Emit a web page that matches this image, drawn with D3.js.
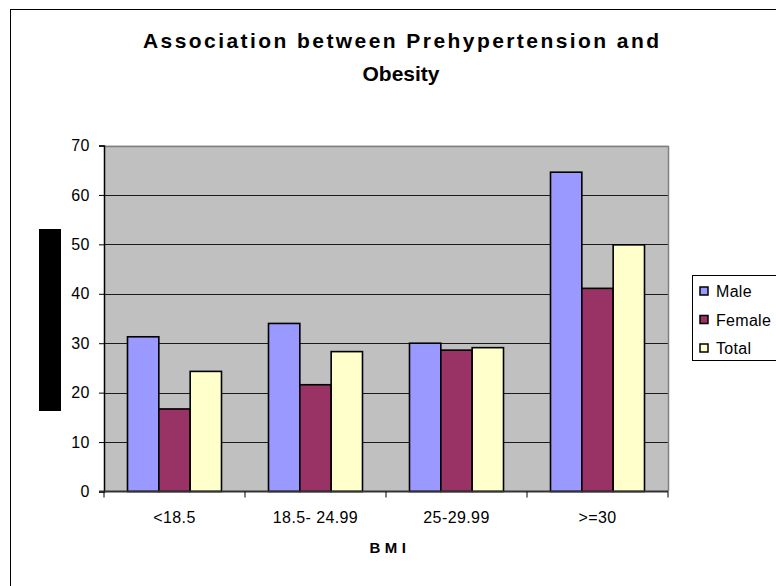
<!DOCTYPE html>
<html><head><meta charset="utf-8">
<script src="https://cdn.jsdelivr.net/npm/d3@7"></script>
<style>body{margin:0;background:#fff}svg{display:block}</style>
</head><body>
<script>
const categories = ["<18.5", "18.5- 24.99", "25-29.99", ">=30"];
const seriesNames = ["Male", "Female", "Total"];
const male = [31.3, 34.0, 30.0, 64.6];
const female = [16.7, 21.6, 28.6, 41.1];
const total = [24.3, 28.3, 29.1, 49.9];
const yTicks = [0, 10, 20, 30, 40, 50, 60, 70];
const titleLines = ["Association between Prehypertension and", "Obesity"];
const xTitle = "BMI";

const seriesValues = [male, female, total];
const colors = ["#9999FF", "#993366", "#FFFFCC"];
const FONT = "Arial, 'Liberation Sans', sans-serif";

const W = 776, H = 586;
const svg = d3.select("body").append("svg").attr("width", W).attr("height", H);
svg.append("rect").attr("width", W).attr("height", H).attr("fill", "#fff");
// outer chart border
svg.append("rect").attr("x", 10.5).attr("y", 9.5).attr("width", 800).attr("height", 620)
  .attr("fill", "none").attr("stroke", "#000").attr("stroke-width", 1);

const plot = {left: 104, right: 668, top: 145.5, bottom: 491.5};
const x0 = d3.scaleBand().domain(categories).range([plot.left, plot.right]).paddingInner(0).paddingOuter(0);
const x1 = d3.scaleBand().domain(seriesNames).range([0, x0.bandwidth()]).paddingInner(0).paddingOuter(0.75);
const y = d3.scaleLinear().domain([0, 70]).range([plot.bottom, plot.top]);

// plot background
svg.append("rect").attr("x", plot.left).attr("y", plot.top).attr("width", plot.right - plot.left)
  .attr("height", plot.bottom - plot.top).attr("fill", "#C0C0C0");
// gridlines
svg.append("g").selectAll("line").data(yTicks.filter(t => t > 0 && t < 70)).join("line")
  .attr("x1", plot.left).attr("x2", plot.right)
  .attr("y1", d => Math.round(y(d)) + 0.5).attr("y2", d => Math.round(y(d)) + 0.5)
  .attr("stroke", "#1a1a1a").attr("stroke-width", 1);
// top / right border of plot area
svg.append("path").attr("d", `M${plot.left},${Math.round(plot.top)+0.5}H${plot.right+0.5}V${plot.bottom}`)
  .attr("fill", "none").attr("stroke", "#808080").attr("stroke-width", 1.5);

// bars
const groups = svg.append("g").selectAll("g").data(categories).join("g")
  .attr("transform", d => `translate(${x0(d)},0)`);
groups.selectAll("rect").data((c, i) => seriesNames.map((s, j) => ({s, v: seriesValues[j][i], j})))
  .join("rect")
  .attr("x", d => x1(d.s)).attr("width", x1.bandwidth())
  .attr("y", d => y(d.v)).attr("height", d => y(0) - y(d.v))
  .attr("fill", d => colors[d.j]).attr("stroke", "#000").attr("stroke-width", 1.6);

// y axis
const yAxis = d3.axisLeft(y).tickValues(yTicks).tickSize(5).tickPadding(9).tickFormat(d3.format("d"));
const gy = svg.append("g").attr("transform", `translate(${plot.left},0)`).call(yAxis);
gy.select(".domain").attr("stroke", "#000").attr("stroke-width", 1.5);
gy.selectAll(".tick line").attr("stroke", "#000");
gy.selectAll(".tick text").attr("font-family", FONT).attr("font-size", 16).attr("fill", "#000")
  .attr("letter-spacing", 0.5);

// x axis
const gx = svg.append("g").attr("transform", `translate(0,${plot.bottom})`);
gx.append("line").attr("x1", plot.left - 5).attr("x2", plot.right).attr("y1", 0).attr("y2", 0)
  .attr("stroke", "#333").attr("stroke-width", 2);
const bounds = categories.map(c => x0(c)).concat([x0(categories[categories.length - 1]) + x0.bandwidth()]);
gx.selectAll("line.tk").data(bounds).join("line").attr("class", "tk")
  .attr("x1", d => d).attr("x2", d => d).attr("y1", 0).attr("y2", 6).attr("stroke", "#000");
gx.selectAll("text").data(categories).join("text")
  .attr("x", d => x0(d) + x0.bandwidth() / 2).attr("y", 31)
  .attr("text-anchor", "middle").attr("font-family", FONT)
  .attr("font-size", 16).attr("letter-spacing", 0.4).text(d => d);

// x title
svg.append("text").attr("x", (plot.left + plot.right) / 2 + 4).attr("y", 553).attr("text-anchor", "middle")
  .attr("font-family", FONT).attr("font-weight", "bold")
  .attr("font-size", 15).attr("letter-spacing", 4.5).text(xTitle);

// y title (redacted block)
svg.append("rect").attr("x", 39).attr("y", 229).attr("width", 22).attr("height", 182).attr("fill", "#000");

// title
const tt = svg.append("g").selectAll("text").data(titleLines).join("text")
  .attr("x", 401).attr("y", (d, i) => 48 + i * 33).attr("text-anchor", "middle")
  .attr("font-family", FONT).attr("font-weight", "bold")
  .attr("font-size", 21).text(d => d);
tt.filter((d, i) => i === 0).attr("textLength", 516).attr("lengthAdjust", "spacing");

// legend
const lg = svg.append("g");
lg.append("rect").attr("x", 692.5).attr("y", 275.5).attr("width", 90).attr("height", 85)
  .attr("fill", "#fff").attr("stroke", "#000");
const items = lg.selectAll("g").data(seriesNames).join("g")
  .attr("transform", (d, i) => `translate(0,${291 + i * 28.5})`);
items.append("rect").attr("x", 700).attr("y", -4).attr("width", 8).attr("height", 8)
  .attr("fill", (d, i) => colors[i]).attr("stroke", "#000").attr("stroke-width", 1.5);
items.append("text").attr("x", 716).attr("y", 6)
  .attr("font-family", FONT).attr("font-size", 16).attr("letter-spacing", 0.3).text(d => d);
</script>
</body></html>
